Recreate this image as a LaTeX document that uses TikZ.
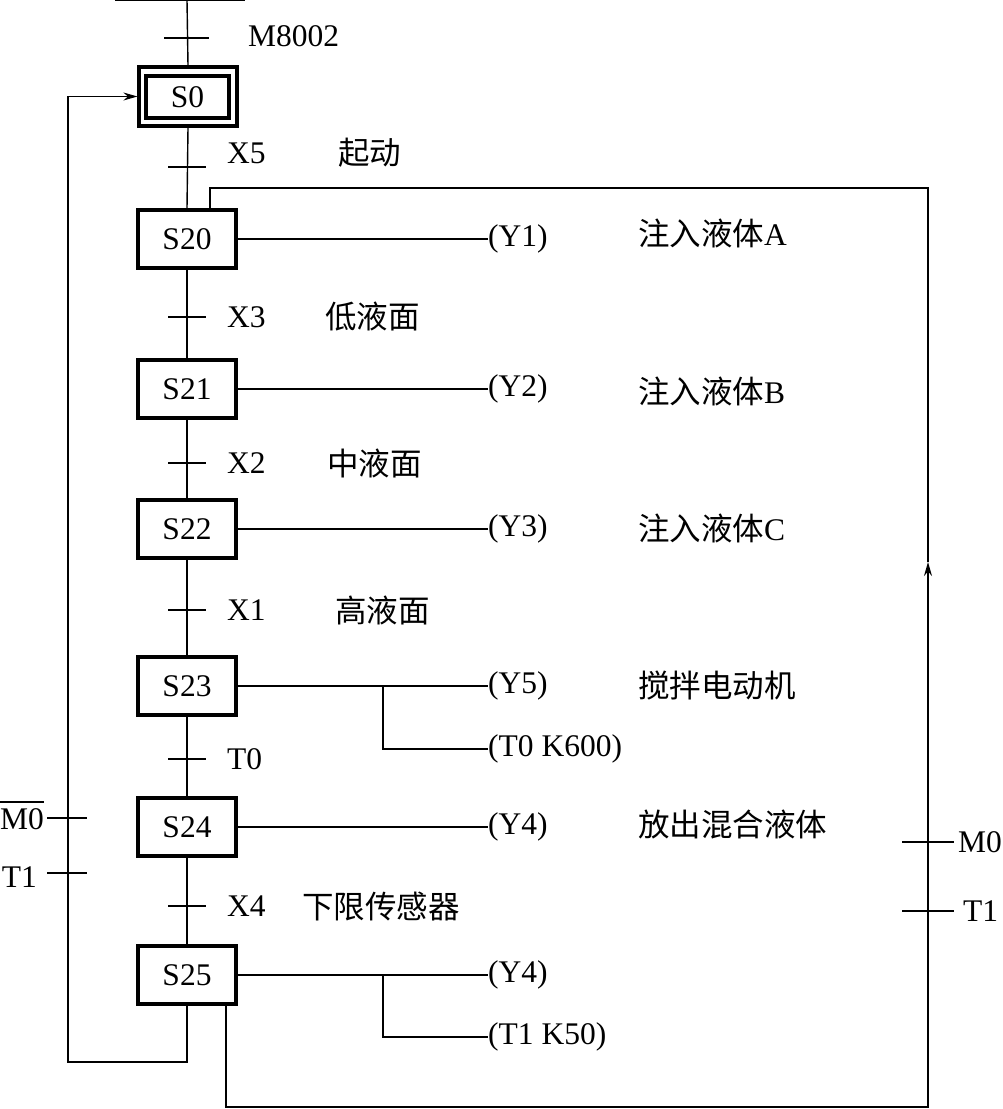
\documentclass[tikz,border=0pt]{standalone}
\usepackage{fontspec}
\setmainfont{Liberation Serif}
\newfontfamily\cjk{Noto Sans CJK SC}
\usetikzlibrary{arrows.meta}
\newcommand{\labfont}{\fontsize{31.5}{34}\selectfont}

\begin{document}
\begin{tikzpicture}[x=1pt,y=-1pt,
  thin/.style={line width=1.4pt},
  stepbox/.style={draw,line width=3.2pt,minimum width=98pt,minimum height=58pt,inner sep=0pt,font=\labfont},
  lab/.style={anchor=west,inner sep=0pt,font=\labfont},
  cnlab/.style={lab,font=\labfont\cjk},
  tip/.style={-{Stealth[length=14pt,width=8pt]}}]
\useasboundingbox (0,0) rectangle (1003,1109);
% steps
\node[stepbox,minimum width=83pt,minimum height=42pt] (S0) at (187.5,97) {S0};
\node[stepbox,minimum width=98pt,minimum height=59pt] (S0out) at (188,96.5) {};
\foreach \s/\y in {S20/239,S21/389,S22/529,S23/686,S24/827,S25/975}
  \node[stepbox] (\s) at (187,\y) {\s};
% spine
\coordinate (top) at (187,0);
\draw[thin] (115,0) -- (245,0);
\draw[thin] (top) -- (S0out.north);
\draw[thin] (S0out.south) -- (S20.north);
\foreach \a/\b in {S20/S21,S21/S22,S22/S23,S23/S24,S24/S25}
  \draw[thin] (\a.south) -- (\b.north);
% transitions
\draw[thin] (164,38) -- (209,38);
\node[lab] (c0) at (248,36) {M8002};
\draw[thin] (168,167) -- (206,167);
\node[lab] (c1) at (227,153) {X5};
\node[cnlab] (e1) at (338,153) {起动};
\foreach \y/\n/\t in {317/c2/X3,463/c3/X2,610/c4/X1,759/c5/T0,906/c6/X4}{
  \draw[thin] (168,\y) -- (206,\y);
  \node[lab] (\n) at (227,\y) {\t};
}
\node[cnlab] (e2) at (325,317) {低液面};
\node[cnlab] (e3) at (327,463) {中液面};
\node[cnlab] (e4) at (335,610) {高液面};
\node[cnlab] (e6) at (302,906) {下限传感器};
% actions
\coordinate (xact) at (488,0);
\foreach \s/\a [count=\k] in {S20/Y1,S21/Y2,S22/Y3,S23/Y5,S24/Y4,S25/Y4}{
  \node[lab] (out\k) at (\s.center -| xact) {(\a)};
  \draw[thin] (\s.east) -- (out\k.west);
}
\coordinate (xbr) at (383,0);
\coordinate (br1) at (S23.center -| xbr);
\coordinate (br2) at (S25.center -| xbr);
\node[lab] (tk1) at (488,749) {(T0 K600)};
\node[lab] (tk2) at (488,1037) {(T1 K50)};
\draw[thin] (br1) |- (tk1.west);
\draw[thin] (br2) |- (tk2.west);
\node[lab] (d1) at (638,233) {{\cjk 注入液体}A};
\node[lab] (d2) at (638,391) {{\cjk 注入液体}B};
\node[lab] (d3) at (638,528) {{\cjk 注入液体}C};
\node[cnlab] (d4) at (638,686) {搅拌电动机};
\node[cnlab] (d5) at (638,825) {放出混合液体};
% return to S0
\coordinate (lbot) at (68,1062);
\draw[thin,tip] (S25.south) |- (lbot) |- (S0out.west);
\draw[thin] (47,818) -- (87,818);
\draw[thin] (47,873) -- (87,873);
\node[lab,anchor=east] (m0) at (44,819) {M0};
\draw[thin] ([yshift=6pt]m0.north west) -- ([yshift=6pt]m0.north east);
\node[lab,anchor=east] (t1) at (37,877) {T1};
% return to S20
\coordinate (xr) at (226,0);
\coordinate (xin) at (210,0);
\coordinate (s25out) at (S25.south -| xr);
\coordinate (s20in) at (S20.north -| xin);
\coordinate (rbot) at (928,1107);
\coordinate (rarr) at (928,562);
\coordinate (rtop) at (928,188);
\draw[thin,tip] (s25out) |- (rbot) -- (rarr);
\draw[thin] (rarr) -- (rtop) -| (s20in);
\draw[thin] (902,842) -- (954,842);
\draw[thin] (902,911) -- (954,911);
\node[lab,anchor=east] (m0r) at (1002,842) {M0};
\node[lab] (t1r) at (963,911) {T1};
\end{tikzpicture}
\end{document}
